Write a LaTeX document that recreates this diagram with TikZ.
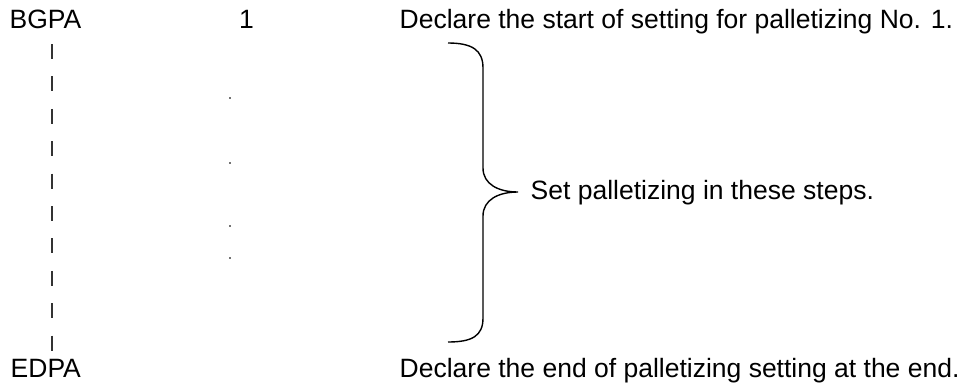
\documentclass[tikz,border=0pt]{standalone}
\usepackage{fontspec}
\setmainfont{Liberation Sans}
\usepackage{tikz}
\usetikzlibrary{positioning,calc}
\tikzset{
  txt/.style={font=\fontsize{26.5}{31}\selectfont, inner sep=0pt, anchor=base west, text=black},
  vline/.style={draw=black!80, line width=1.3pt, dash pattern=on 15pt off 17.4pt},
  bline/.style={draw=black, line width=1.4pt},
  speck/.style={fill=black!55, draw=none},
}

\begin{document}
\begin{tikzpicture}[x=1pt, y=-1pt]
  \useasboundingbox (0,0) rectangle (966,383);
  \node[txt] (bgpa)  at (9.5,28.5)   {BGPA};
  \node[txt] (num)   at (239,28.5)   {1};
  \node[txt] (start) at (399.5,28.5) {Declare the start of setting for palletizing No. 1.};
  \node[txt] (edpa)  at (10.5,377)   {EDPA};
  \node[txt] (endtx) at (399.5,377)  {Declare the end of palletizing setting at the end.};
  % dashed guide between the two steps
  \coordinate (dtop) at (52,44);
  \coordinate (dbot) at (52,353);
  \draw[vline] (dtop) -- (dbot);
  \foreach \yy in {98,163,226,258} \fill[speck] (229.4,\yy-0.7) rectangle ++(1.4,1.4);
  % brace
  \coordinate (btop) at (448,43);
  \coordinate (bbot) at (448,342);
  \coordinate (tip)  at (518,192);
  \draw[bline] (btop) .. controls (472,43) and (483,50) .. (483,68)
    -- (483,168) .. controls (483,184) and (498,192) .. (tip)
    .. controls (498,192) and (483,200) .. (483,216)
    -- (483,318) .. controls (483,336) and (472,342) .. (bbot);
  \node[txt, anchor=base west] (steps) at ($(tip)+(12.5,7)$) {Set palletizing in these steps.};
\end{tikzpicture}
\end{document}
